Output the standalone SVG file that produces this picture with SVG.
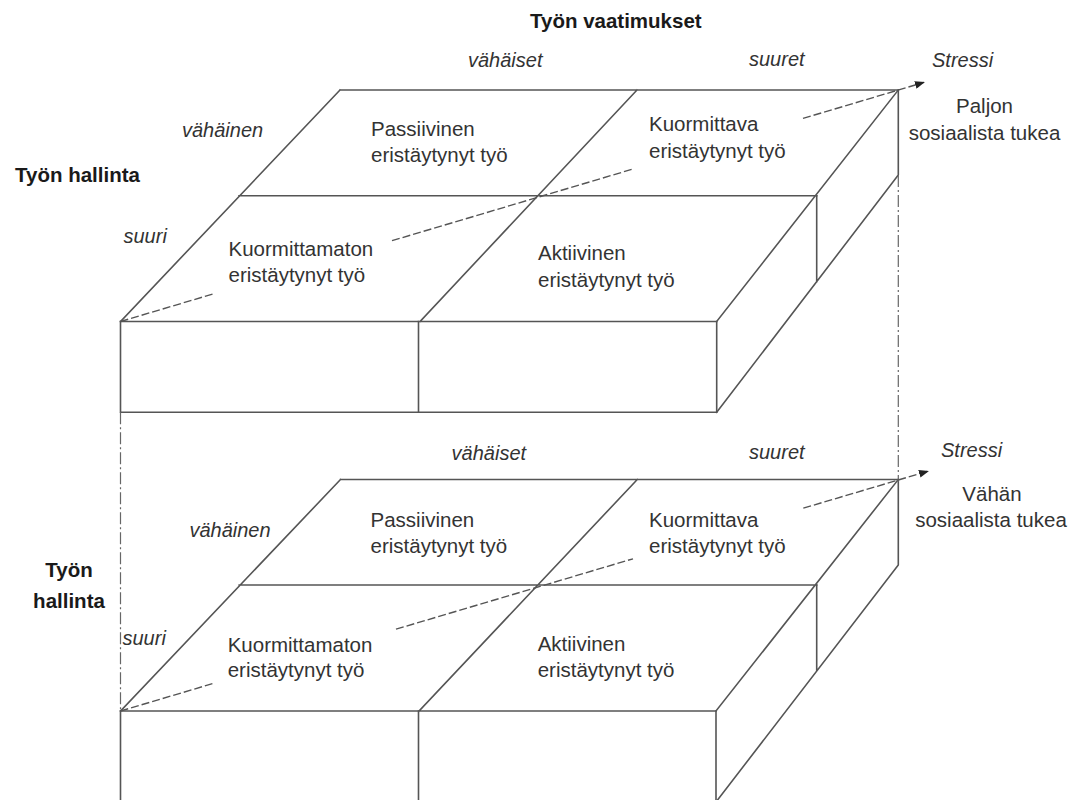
<svg xmlns="http://www.w3.org/2000/svg" width="1074" height="800" viewBox="0 0 1074 800">
<style>
.ln{stroke:#555;stroke-width:1.6;fill:none;stroke-linecap:square}
.t{font-family:"Liberation Sans",Arial,sans-serif;font-size:20.5px;fill:#333}
.i{font-style:italic;font-size:20px}
.b{font-weight:bold;fill:#1a1a1a}
.c{text-anchor:middle}
.dash{stroke:#555;stroke-width:1.4;fill:none;stroke-dasharray:8 3}
.dd{stroke:#666;stroke-width:1.2;fill:none;stroke-dasharray:12 3 2 3}
</style>
<defs>
<marker id="arr" markerUnits="userSpaceOnUse" markerWidth="10" markerHeight="8" refX="9" refY="4" orient="auto">
<path d="M0,0 L10,4 L0,8 Z" fill="#222"/>
</marker>
</defs>
<rect width="1074" height="800" fill="#fff"/>

<g id="axis-labels">
<text class="t b" x="530" y="28">Työn vaatimukset</text>
<text class="t b" x="15" y="182">Työn hallinta</text>
<text class="t b c" x="69" y="577">Työn</text>
<text class="t b c" x="69" y="608">hallinta</text>
</g>

<g id="top-box">
<path class="ln" d="M340,90 H898.3 M239,195.7 H816.7 M120.5,321.5 H716.7 M120.5,321.5 L340,90 M420,321.5 L637,90 M716.7,321.5 L898.3,90"/>
<path class="ln" d="M120.5,321.5 V412.3 H716.7 V321.5 M418.5,321.5 V412.3"/>
<path class="ln" d="M898.3,90 V175 L716.7,412.3 M816.7,195.7 V281.7"/>
<g id="top-labels">
<text class="t i" x="468" y="67">vähäiset</text>
<text class="t i" x="749" y="66">suuret</text>
<text class="t i" x="182" y="137">vähäinen</text>
<text class="t i" x="123.5" y="243">suuri</text>
<text class="t i" x="932" y="67">Stressi</text>
<text class="t c" x="984.5" y="113">Paljon</text>
<text class="t c" x="984.5" y="140">sosiaalista tukea</text>
</g>
<g id="top-passiivinen"><text class="t" x="371" y="136">Passiivinen</text><text class="t" x="371" y="162">eristäytynyt työ</text></g>
<g id="top-kuormittava"><text class="t" x="649" y="131">Kuormittava</text><text class="t" x="649" y="158">eristäytynyt työ</text></g>
<g id="top-kuormittamaton"><text class="t" x="228.5" y="256">Kuormittamaton</text><text class="t" x="228.5" y="282">eristäytynyt työ</text></g>
<g id="top-aktiivinen"><text class="t" x="538" y="260">Aktiivinen</text><text class="t" x="538" y="287">eristäytynyt työ</text></g>
</g>

<g id="bottom-box">
<path class="ln" d="M340.5,479.5 H898.3 M239.2,585 H816.7 M120.5,711 H716 M120.5,711 L340.5,479.5 M419,711 L637.3,479.5 M716,711 L898.3,479.5"/>
<path class="ln" d="M120.5,711 V802 M418.5,711 V802 M716,711 V802"/>
<path class="ln" d="M898.3,479.5 V565 L716,802 M816.7,585 V670"/>
<g id="bottom-labels">
<text class="t i" x="451.6" y="460">vähäiset</text>
<text class="t i" x="749" y="458.5">suuret</text>
<text class="t i" x="189.4" y="537">vähäinen</text>
<text class="t i" x="122.5" y="645">suuri</text>
<text class="t i" x="941" y="457">Stressi</text>
<text class="t c" x="992" y="501">Vähän</text>
<text class="t c" x="991" y="527">sosiaalista tukea</text>
</g>
<g id="bottom-passiivinen"><text class="t" x="370.5" y="527">Passiivinen</text><text class="t" x="370.5" y="553">eristäytynyt työ</text></g>
<g id="bottom-kuormittava"><text class="t" x="649" y="527">Kuormittava</text><text class="t" x="649" y="553">eristäytynyt työ</text></g>
<g id="bottom-kuormittamaton"><text class="t" x="227.7" y="652">Kuormittamaton</text><text class="t" x="227.7" y="677">eristäytynyt työ</text></g>
<g id="bottom-aktiivinen"><text class="t" x="537.7" y="651">Aktiivinen</text><text class="t" x="537.7" y="677">eristäytynyt työ</text></g>
</g>

<g id="connectors">
<path class="dd" d="M120.5,412.3 V711 M898.3,175 V482"/>
<path class="dash" d="M120.5,321.5 L213,294 M392,240.7 L633,169"/>
<path class="dash" d="M803,118.4 L924,82.4" marker-end="url(#arr)"/>
<path class="dash" d="M120.5,711 L212.4,683.7 M396,629.2 L633,558.8"/>
<path class="dash" d="M803.3,508.2 L928,471.2" marker-end="url(#arr)"/>
</g>
</svg>
